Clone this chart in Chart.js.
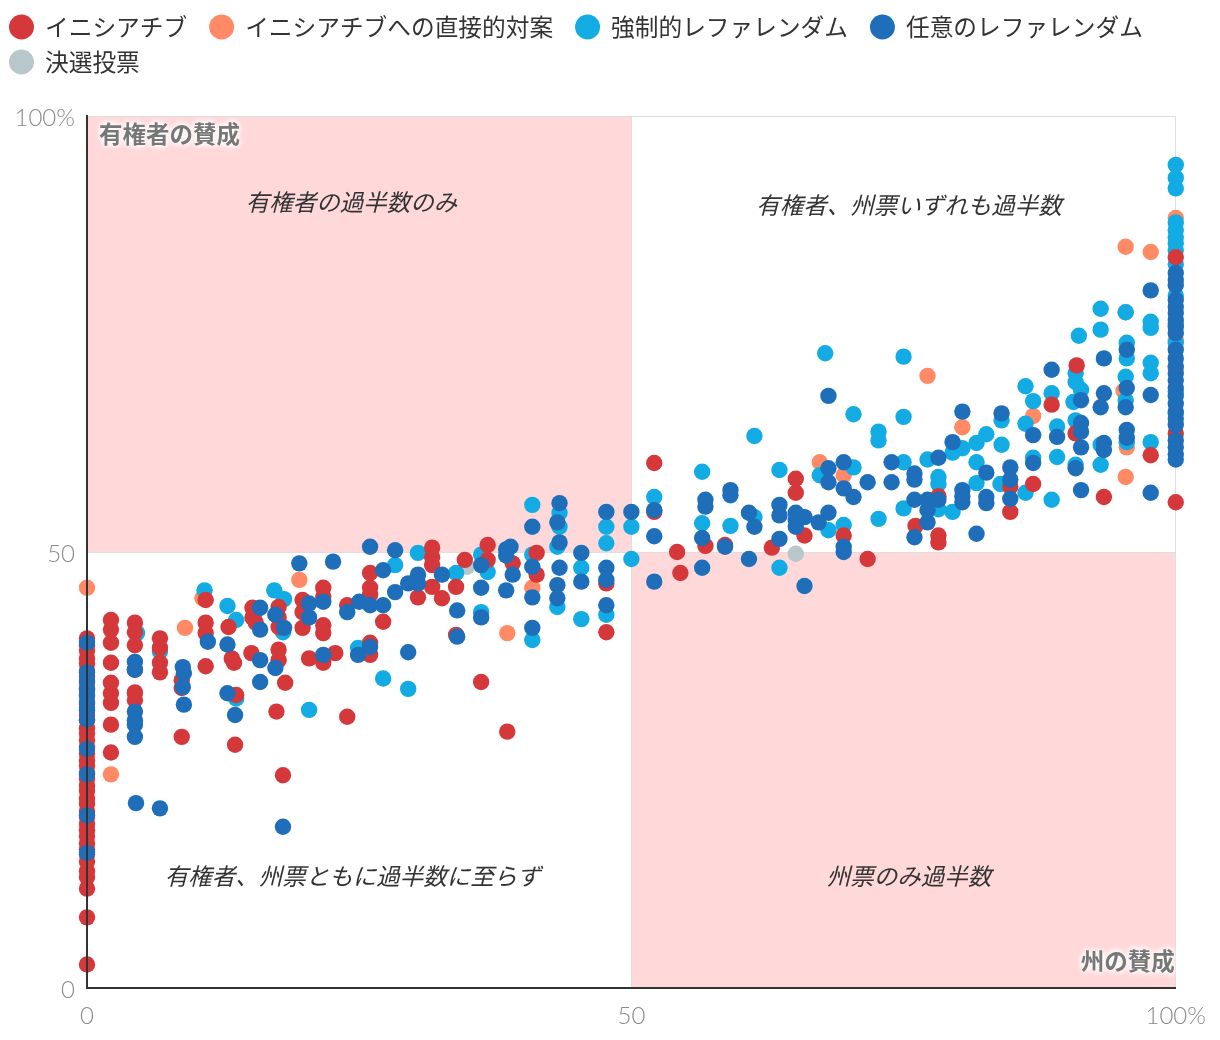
<!DOCTYPE html>
<html lang="ja">
<head>
<meta charset="utf-8">
<title>州の賛成と有権者の賛成</title>
<script src="https://cdn.jsdelivr.net/npm/chart.js@4.4.1/dist/chart.umd.min.js"></script>
<style>
  html, body { margin: 0; padding: 0; background: #fff; }
  #wrap { width: 1220px; height: 1040px; position: relative; }
</style>
</head>
<body>
<div id="wrap"><canvas id="voteChart"></canvas></div>
<script>
// x = 州の賛成 (%), y = 有権者の賛成 (%)
const seriesLabels = ['イニシアチブ', 'イニシアチブへの直接的対案', '強制的レファレンダム', '任意のレファレンダム', '決選投票'];
const seriesColors = ['#d5383b', '#ff8a65', '#13abe3', '#1f6eb9', '#b8c7ca'];
// lower order = drawn on top
const seriesOrder = [1, 3, 2, 0, 4];

const initiativePoints = [
    [0, 40.1], [0, 39.3], [0, 38.7], [0, 37.8], [0, 37.2], [0, 36.4], [0, 35.7], [0, 35.0], [0, 34.2], [0, 33.6],
    [0, 32.8], [0, 32.1], [0, 31.3], [0, 30.7], [0, 29.8], [0, 29.2], [0, 28.4], [0, 27.7], [0, 26.9], [0, 26.1],
    [0, 25.5], [0, 24.7], [0, 24.0], [0, 23.2], [0, 22.6], [0, 21.7], [0, 21.1], [0, 20.2], [0, 19.6], [0, 18.8],
    [0, 18.1], [0, 17.4], [0, 16.6], [0, 15.9], [0, 15.3], [0, 14.5], [0, 13.4], [0, 12.7], [0, 11.4], [0, 8.1], [0, 2.7],
    [2.2, 42.2], [2.2, 41.1], [2.2, 39.6], [2.2, 37.3], [2.2, 35.0], [2.2, 33.8], [2.2, 32.7], [2.2, 30.2], [2.2, 27.0],
    [4.4, 41.9], [4.4, 40.8], [4.4, 39.3], [4.4, 36.5], [4.4, 33.9], [4.4, 33.0],
    [6.7, 40.1], [6.7, 39.0], [6.7, 37.3], [6.7, 36.2],
    [8.7, 35.3], [8.7, 34.4], [8.7, 28.8],
    [10.9, 44.5], [10.9, 41.9], [10.9, 40.7], [10.9, 36.9],
    [13.0, 41.4], [13.3, 37.8], [13.5, 37.3], [13.7, 33.6], [13.6, 27.9],
    [15.2, 43.6], [15.2, 42.5], [15.5, 41.9], [15.1, 38.4],
    [17.6, 43.7], [17.6, 42.5], [17.6, 41.4], [17.6, 38.8], [17.6, 37.6], [18.2, 35.0], [17.4, 31.7], [18.0, 24.4],
    [19.8, 44.5], [19.8, 43.1], [19.8, 41.3], [20.4, 37.8],
    [21.7, 45.9], [21.7, 44.9], [21.7, 41.6], [21.7, 40.7], [21.7, 37.3],
    [22.8, 38.4], [23.9, 43.9], [23.9, 31.1],
    [26.0, 47.6], [26.0, 45.9], [26.0, 45.1], [26.0, 39.6], [26.0, 38.2], [27.2, 42.0],
    [30.4, 44.8], [31.7, 50.5], [31.7, 49.4], [31.7, 48.5], [31.7, 46.0],
    [32.6, 44.7], [33.9, 46.0], [33.9, 40.5], [34.7, 49.1],
    [36.2, 35.1], [36.8, 50.8], [36.8, 49.1], [39.1, 48.7], [38.6, 29.4],
    [41.3, 49.9], [41.3, 47.4], [47.7, 46.4], [47.7, 40.8],
    [52.1, 60.2], [52.1, 54.6], [54.2, 50.0], [54.5, 47.6], [56.8, 50.7], [58.6, 50.8],
    [62.9, 50.5], [65.1, 58.4], [65.1, 56.8], [65.9, 51.9], [69.5, 51.9], [71.7, 49.2],
    [76.1, 53.0], [78.2, 56.4], [78.2, 51.9], [78.2, 51.1],
    [84.8, 57.5], [84.8, 54.6], [86.9, 57.8], [88.6, 66.9], [90.9, 71.4], [90.8, 63.6], [93.4, 56.3], [97.7, 61.1],
    [100, 83.8], [100, 63.6], [100, 55.7]
];

const counterPoints = [
    [0, 45.9], [2.2, 24.5], [4.4, 33.8], [9.0, 41.3], [10.6, 44.7], [19.5, 46.8], [38.6, 40.7], [40.9, 45.9],
    [67.3, 60.3], [69.5, 58.8], [77.2, 70.2], [80.4, 64.3], [86.9, 65.6],
    [95.4, 85.0], [97.7, 84.4], [95.4, 77.5], [95.2, 68.5], [95.5, 62.0], [95.4, 58.6],
    [100, 88.3], [100, 76.0], [100, 74.3], [100, 71.0]
];

const mandatoryPoints = [
    [4.6, 40.7], [6.7, 38.6], [10.8, 45.6], [12.9, 43.8], [13.7, 42.2], [13.7, 33.2], [15.5, 43.2],
    [17.2, 45.6], [18.1, 44.6], [18.0, 40.8], [20.4, 31.9], [24.9, 39.0], [27.2, 35.5], [28.3, 48.5],
    [29.5, 34.3], [30.4, 49.9], [33.9, 47.6], [36.2, 49.7], [36.8, 47.7], [36.2, 43.1],
    [40.9, 55.4], [40.9, 49.7], [40.9, 39.9], [43.4, 54.5], [43.4, 52.9], [43.2, 50.6], [43.2, 43.7],
    [45.4, 48.2], [45.4, 42.3], [47.7, 52.9], [47.7, 51.0], [47.7, 42.8], [50, 52.9], [50, 49.2],
    [52.1, 56.3], [56.5, 59.2], [56.5, 53.3], [59.1, 53.0], [61.3, 63.3], [61.3, 54.0],
    [63.6, 59.4], [63.6, 48.2], [67.3, 58.8], [68.1, 52.5], [70.4, 59.7], [69.5, 53.1], [70.4, 65.8],
    [67.8, 72.8], [72.7, 63.8], [72.7, 62.8], [72.7, 53.8], [75.0, 72.4], [75.0, 65.5], [75.0, 60.3], [75.0, 55.0],
    [77.2, 60.6], [78.2, 58.6], [78.2, 57.8], [78.2, 54.9], [79.5, 61.4], [79.5, 54.6], [80.4, 61.9],
    [81.7, 62.5], [82.6, 63.5], [81.7, 60.3], [81.7, 57.9], [84.0, 65.1], [84.0, 62.3], [83.9, 57.8],
    [86.2, 69.0], [86.9, 67.3], [86.2, 64.7], [86.2, 56.8], [86.9, 60.8], [88.6, 68.2], [88.6, 56.0],
    [89.1, 64.4], [89.1, 60.9], [91.1, 74.8], [90.8, 70.5], [90.8, 69.5], [91.3, 68.6], [90.6, 67.2],
    [90.8, 65.1], [90.8, 60.0], [93.1, 77.9], [93.1, 75.5], [93.1, 62.3], [93.1, 60.0],
    [95.5, 74.0], [95.5, 72.2], [95.4, 77.5], [95.4, 70.1], [95.4, 67.4], [95.5, 62.6],
    [97.7, 76.4], [97.7, 75.7], [97.7, 71.7], [97.7, 70.5], [97.7, 62.6],
    [100, 94.4], [100, 92.9], [100, 91.7], [100, 87.8], [100, 86.9], [100, 86.1], [100, 85.4], [100, 84.6],
    [100, 83.0], [100, 79.4], [100, 76.2], [100, 74.0], [100, 68.4], [100, 65.9]
];

const optionalPoints = [
    [0, 39.6], [0, 36.2], [0, 35.2], [0, 34.3], [0, 33.5], [0, 32.6], [0, 31.8], [0, 30.8], [0, 27.4], [0, 24.5], [0, 19.8], [0, 15.5],
    [4.4, 37.4], [4.4, 36.5], [4.4, 31.7], [4.4, 30.7], [4.4, 30.2], [4.4, 28.8], [4.5, 21.2], [6.7, 20.6],
    [8.8, 36.8], [8.9, 36.1], [8.8, 34.5], [8.9, 32.5],
    [11.1, 39.7], [12.9, 39.4], [12.9, 33.8], [13.6, 31.3],
    [15.9, 43.6], [15.9, 41.1], [15.9, 37.6], [15.9, 35.1],
    [17.3, 42.8], [18.1, 41.3], [17.3, 36.7], [18.0, 18.5],
    [19.5, 48.7], [20.4, 44.1], [20.4, 42.5], [21.7, 44.3], [21.7, 38.2], [22.6, 48.9], [23.9, 43.1],
    [25.0, 44.3], [24.9, 38.2], [26.0, 50.6], [26.0, 43.9], [26.0, 39.1],
    [27.2, 47.9], [27.2, 43.9], [28.3, 50.2], [28.3, 45.4], [29.5, 46.4], [29.5, 38.5], [30.4, 47.4], [30.4, 46.4],
    [32.6, 47.4], [34.0, 43.3], [34.0, 40.3], [36.2, 48.5], [36.2, 45.9], [36.2, 42.5],
    [38.5, 50.3], [38.9, 50.6], [38.5, 49.6], [39.1, 47.4], [38.5, 45.6],
    [40.9, 52.9], [40.9, 48.3], [40.9, 44.8], [40.9, 41.3],
    [43.4, 55.6], [43.2, 53.4], [43.4, 51.1], [43.4, 48.2], [43.2, 46.2], [43.2, 44.7],
    [45.4, 49.9], [45.4, 46.6], [47.7, 54.6], [47.7, 48.2], [47.7, 46.8], [47.7, 43.9], [50, 54.6],
    [52.1, 54.8], [52.1, 51.8], [52.1, 46.6], [56.8, 56.0], [56.8, 55.2], [56.5, 51.6], [56.5, 48.2],
    [59.1, 57.1], [59.1, 56.5], [58.6, 50.6], [60.8, 54.5], [61.3, 52.9], [60.8, 49.2],
    [63.6, 55.4], [63.6, 54.2], [63.6, 51.5], [65.1, 54.5], [65.1, 53.7], [65.1, 52.9], [65.9, 54.0], [65.9, 46.1],
    [67.2, 53.4], [68.1, 54.5], [68.1, 67.9], [68.1, 59.6], [68.1, 58.0], [69.5, 60.3], [69.5, 57.3], [70.4, 56.3],
    [69.5, 50.6], [69.5, 50.0], [71.7, 58.0], [73.9, 60.3], [73.9, 58.0], [76.0, 59.0], [76.0, 58.3], [76.0, 56.0], [76.0, 51.7],
    [78.2, 60.8], [77.2, 56.0], [77.2, 54.8], [77.2, 53.4], [78.2, 56.0], [80.4, 66.1], [79.5, 62.6],
    [80.4, 57.1], [80.4, 56.4], [80.4, 55.7], [82.6, 59.1], [82.6, 56.3], [82.6, 55.6], [81.7, 52.1],
    [84.0, 65.9], [84.8, 59.7], [84.8, 58.3], [84.8, 56.1], [86.9, 63.4], [86.9, 60.2], [88.6, 70.9], [89.1, 63.2],
    [91.3, 67.4], [91.3, 64.8], [91.3, 63.8], [91.3, 62.0], [90.8, 59.6], [91.3, 57.1],
    [93.4, 72.2], [93.4, 68.2], [93.1, 66.6], [93.4, 62.5], [93.4, 61.7],
    [95.5, 73.2], [95.5, 68.8], [95.4, 66.6], [95.5, 64.0], [95.5, 63.1], [97.7, 80.0], [97.7, 68.0], [97.7, 56.8],
    [100, 82.0], [100, 81.2], [100, 80.6], [100, 78.9], [100, 78.1], [100, 77.4], [100, 76.6], [100, 75.8],
    [100, 75.1], [100, 73.2], [100, 72.2], [100, 71.3], [100, 70.5], [100, 69.7], [100, 68.8], [100, 67.9],
    [100, 67.0], [100, 66.1], [100, 65.3], [100, 64.6], [100, 62.8], [100, 62.0], [100, 61.2], [100, 60.6]
];

const runoffPoints = [[34.9, 48.3], [65.1, 49.8]];

const seriesPoints = [initiativePoints, counterPoints, mandatoryPoints, optionalPoints, runoffPoints];

// quadrant captions: [text, x, y]
const quadrantLabels = [
    ['有権者の過半数のみ', 24.3, 90.1],
    ['有権者、州票いずれも過半数', 75.5, 89.8],
    ['有権者、州票ともに過半数に至らず', 24.4, 12.8],
    ['州票のみ過半数', 75.5, 12.8]
];
const axisTicks = [0, 50, 100];

const cjkFont = '"Noto Sans CJK JP", "Noto Sans", sans-serif';

// pink background in the two "split" quadrants
const quadrantPlugin = {
    id: 'quadrants',
    beforeDraw(chart) {
        const { ctx, scales: { x, y } } = chart;
        ctx.save();
        ctx.fillStyle = '#ffd8da';
        ctx.fillRect(x.getPixelForValue(0), y.getPixelForValue(100),
            x.getPixelForValue(50) - x.getPixelForValue(0), y.getPixelForValue(50) - y.getPixelForValue(100));
        ctx.fillRect(x.getPixelForValue(50), y.getPixelForValue(50),
            x.getPixelForValue(100) - x.getPixelForValue(50), y.getPixelForValue(0) - y.getPixelForValue(50));
        ctx.restore();
    },
    beforeDatasetsDraw(chart) {
        const { ctx, scales: { x, y } } = chart;
        ctx.save();
        ctx.font = 'italic 23.5px ' + cjkFont;
        ctx.fillStyle = '#333';
        ctx.textAlign = 'center';
        ctx.textBaseline = 'middle';
        quadrantLabels.forEach(([text, vx, vy]) => {
            ctx.fillText(text, x.getPixelForValue(vx), y.getPixelForValue(vy));
        });
        ctx.restore();
    },
    afterDatasetsDraw(chart) {
        const { ctx, chartArea } = chart;
        ctx.save();
        ctx.font = 'bold 23.5px ' + cjkFont;
        ctx.textBaseline = 'middle';
        const glowText = (text, px, py, align) => {
            ctx.textAlign = align;
            ctx.shadowColor = '#fff';
            ctx.shadowBlur = 6;
            ctx.fillStyle = '#fff';
            for (let i = 0; i < 3; i++) ctx.fillText(text, px, py);
            ctx.shadowBlur = 0;
            ctx.fillStyle = '#777';
            ctx.fillText(text, px, py);
        };
        glowText('有権者の賛成', chartArea.left + 12, chartArea.top + 18, 'left');
        glowText('州の賛成', chartArea.right - 1, chartArea.bottom - 27, 'right');
        ctx.restore();
    }
};

// legend drawn with the same flow as the original (circle + label, wrapping)
const legendPlugin = {
    id: 'flowLegend',
    afterDraw(chart) {
        const ctx = chart.ctx;
        ctx.save();
        ctx.font = '23.7px ' + cjkFont;
        ctx.textBaseline = 'middle';
        ctx.textAlign = 'left';
        let lx = 9;
        let ly = 27;
        chart.data.datasets.forEach(ds => {
            const w = 35 + ctx.measureText(ds.label).width;
            if (lx + w > chart.width - 8) {
                lx = 9;
                ly += 35;
            }
            ctx.fillStyle = ds.backgroundColor;
            ctx.beginPath();
            ctx.arc(lx + 12.5, ly, 12.5, 0, Math.PI * 2);
            ctx.fill();
            ctx.fillStyle = '#333';
            ctx.fillText(ds.label, lx + 36, ly);
            lx += w + 23;
        });
        ctx.restore();
    }
};

const tickFont = { family: 'Lato', weight: 300, size: 24 };
const tickLabel = v => (v === 100 ? '100%' : String(v));

function axisOptions(extra) {
    return Object.assign({
        type: 'linear',
        min: 0,
        max: 100,
        afterBuildTicks: axis => { axis.ticks = axisTicks.map(v => ({ value: v })); },
        grid: { color: '#dedede', lineWidth: 1, drawTicks: false },
        border: { display: true, color: '#333', width: 2, z: 1 }
    }, extra);
}

const ctx = document.getElementById('voteChart').getContext('2d');
new Chart(ctx, {
    type: 'scatter',
    data: {
        datasets: seriesLabels.map((label, i) => ({
            label: label,
            data: seriesPoints[i].map(([x, y]) => ({ x, y })),
            backgroundColor: seriesColors[i],
            borderWidth: 0,
            pointRadius: 8.2,
            pointHoverRadius: 8.2,
            order: seriesOrder[i],
            clip: false
        }))
    },
    options: {
        responsive: true,
        maintainAspectRatio: false,
        animation: false,
        layout: { padding: { top: 116, right: 41, bottom: 0, left: 0 } },
        plugins: {
            legend: { display: false },
            tooltip: { enabled: false }
        },
        scales: {
            x: axisOptions({
                position: 'bottom',
                afterFit: axis => { axis.height = 52; },
                ticks: { color: '#8a8a8a', font: tickFont, padding: 14, maxRotation: 0, callback: tickLabel }
            }),
            y: axisOptions({
                position: 'left',
                afterFit: axis => { axis.width = 87; },
                ticks: { color: '#8a8a8a', font: tickFont, padding: 12, labelOffset: 2, callback: tickLabel }
            })
        }
    },
    plugins: [quadrantPlugin, legendPlugin]
});
</script>
</body>
</html>
